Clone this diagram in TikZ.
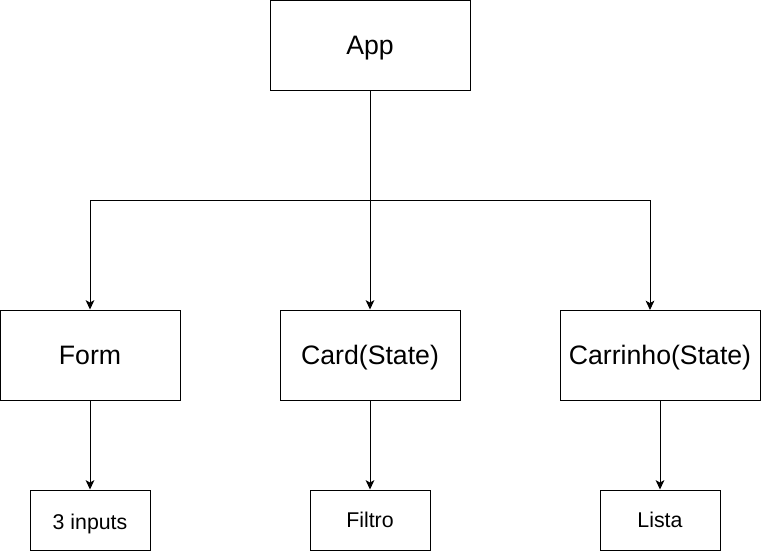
\documentclass[tikz,border=0pt]{standalone}
\usepackage{fontspec}
\setmainfont{Liberation Sans}
\usetikzlibrary{arrows.meta}
\begin{document}
\begin{tikzpicture}[x=0.75pt,y=-0.75pt,
  bigbox/.style={draw,line width=0.75pt,minimum width=150pt,minimum height=67.5pt,inner sep=0pt,text height=14.5pt,text depth=0pt,font=\fontsize{20pt}{24pt}\selectfont},
  midbox/.style={bigbox,minimum width=135pt},
  smallbox/.style={draw,line width=0.75pt,minimum width=90pt,minimum height=45pt,inner sep=0pt,text height=11.5pt,text depth=0pt,font=\fontsize{16pt}{19pt}\selectfont},
  conn/.style={line width=0.75pt},
  arr/.style={conn,-{Stealth[length=7pt,width=6.5pt,inset=1.8pt]}}]
\useasboundingbox (0,0) rectangle (761,551);
\node[bigbox] (App) at (370,45) {App};
\node[midbox] (Form) at (90,355) {Form};
\node[midbox] (Card) at (370,355) {Card(State)};
\node[bigbox] (Carrinho) at (660,355) {Carrinho(State)};
\node[smallbox,text height=14.5pt] (Inputs) at (90,520) {3 inputs};
\node[smallbox] (Filtro) at (370,520) {Filtro};
\node[smallbox] (Lista) at (660,520) {Lista};
\coordinate (hub) at (370,200);
\coordinate (cin) at (650,310);
\draw[conn] (App.south) -- (hub);
\draw[arr] (hub) -| (Form.north);
\draw[arr] (hub) -- (Card.north);
\draw[arr] (hub) -| (cin);
\draw[arr] (Form.south) -- (Inputs.north);
\draw[arr] (Card.south) -- (Filtro.north);
\draw[arr] (Carrinho.south) -- (Lista.north);
\end{tikzpicture}
\end{document}
